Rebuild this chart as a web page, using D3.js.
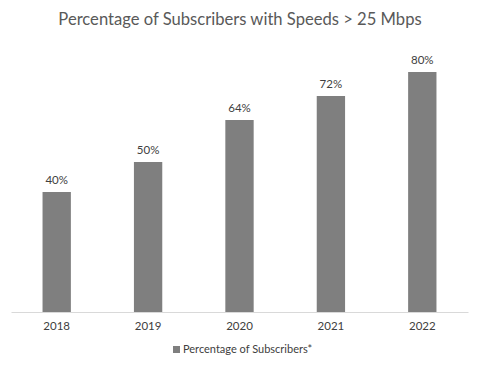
<!DOCTYPE html>
<html>
<head>
<meta charset="utf-8">
<script src="https://cdn.jsdelivr.net/npm/d3@7"></script>
<style>
  body { margin: 0; background: #fff; }
  text { font-family: Lato, "Open Sans", sans-serif; fill: #404040; }
</style>
</head>
<body>
<div id="chart"></div>
<script>
// Chart data
const years = ["2018", "2019", "2020", "2021", "2022"];
const percentages = [40, 50, 64, 72, 80];
const seriesName = "Percentage of Subscribers*";
const chartTitle = "Percentage of Subscribers with Speeds > 25 Mbps";

const width = 480, height = 366;
const margin = {top: 12, right: 12, bottom: 54, left: 11};

const svg = d3.select("#chart")
              .append("svg")
              .attr("width", width)
              .attr("height", height);

// Title
svg.append("text")
   .attr("x", 240)
   .attr("y", 25)
   .attr("text-anchor", "middle")
   .style("font-size", "16.6px")
   .style("fill", "#595959")
   .text(chartTitle);

// Scales
const xScale = d3.scaleBand()
                 .domain(years)
                 .range([margin.left, width - margin.right])
                 .paddingInner(0.69)
                 .paddingOuter(0.345);

const yScale = d3.scaleLinear()
                 .domain([0, 100])
                 .range([height - margin.bottom, margin.top]);

// Bars
svg.append("g")
   .selectAll("rect")
   .data(percentages)
   .enter()
   .append("rect")
   .attr("x", (d, i) => xScale(years[i]))
   .attr("y", d => yScale(d))
   .attr("width", xScale.bandwidth())
   .attr("height", d => yScale(0) - yScale(d))
   .attr("fill", "#7f7f7f");

// Value labels
svg.append("g")
   .selectAll("text")
   .data(percentages)
   .enter()
   .append("text")
   .attr("x", (d, i) => xScale(years[i]) + xScale.bandwidth() / 2)
   .attr("y", d => yScale(d) - 8)
   .attr("text-anchor", "middle")
   .style("font-size", "11.5px")
   .text(d => d + "%");

// X axis (line only, with year labels)
const xAxis = svg.append("g")
                 .attr("transform", "translate(0," + yScale(0) + ")")
                 .call(d3.axisBottom(xScale).tickSize(0).tickPadding(10));
xAxis.select(".domain").attr("stroke", "#d9d9d9");
xAxis.selectAll("text")
     .style("font-size", "11.5px")
     .style("font-family", "Lato, 'Open Sans', sans-serif")
     .attr("fill", "#404040");

// Legend
const legend = svg.append("g").attr("transform", "translate(173,346)");
legend.append("rect")
      .attr("width", 7)
      .attr("height", 7)
      .attr("fill", "#7f7f7f");
legend.append("text")
      .attr("x", 10)
      .attr("y", 7)
      .style("font-size", "11px")
      .text(seriesName);
</script>
</body>
</html>
